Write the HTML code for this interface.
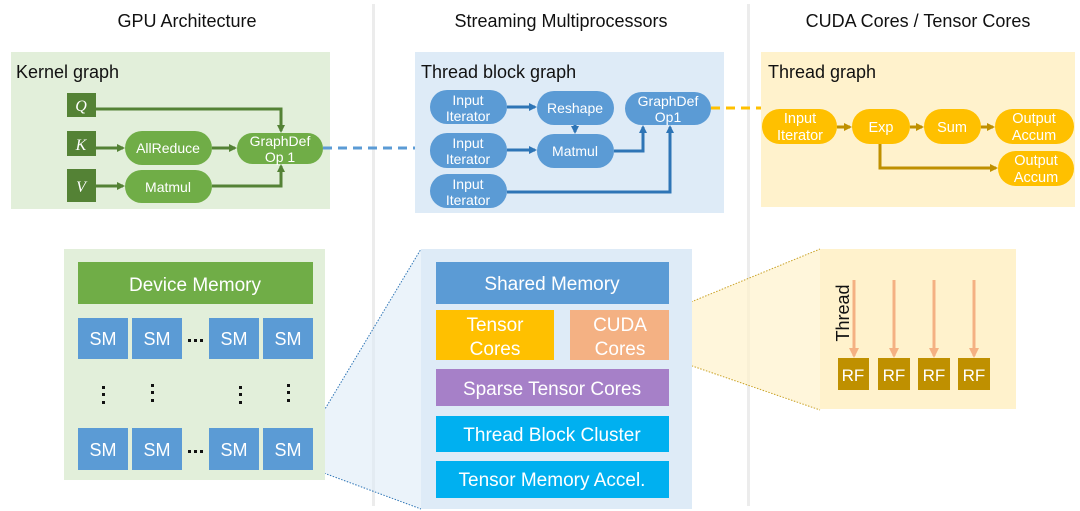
<!DOCTYPE html>
<html><head><meta charset="utf-8"><style>
body{margin:0;background:#fff}
svg{display:block;font-family:"Liberation Sans",Arial,sans-serif}
</style></head><body>
<svg width="1080" height="511" viewBox="0 0 1080 511" xmlns="http://www.w3.org/2000/svg">
<defs>
<marker id="ag" markerWidth="8" markerHeight="8" refX="6" refY="4" orient="auto" markerUnits="userSpaceOnUse"><path d="M0,0 L8,4 L0,8z" fill="#548235"/></marker>
<marker id="ab" markerWidth="8" markerHeight="8" refX="6" refY="4" orient="auto" markerUnits="userSpaceOnUse"><path d="M0,0 L8,4 L0,8z" fill="#2e75b6"/></marker>
<marker id="ay" markerWidth="8" markerHeight="8" refX="6" refY="4" orient="auto" markerUnits="userSpaceOnUse"><path d="M0,0 L8,4 L0,8z" fill="#bf9000"/></marker>
<marker id="ao" markerWidth="10" markerHeight="10" refX="8" refY="5" orient="auto" markerUnits="userSpaceOnUse"><path d="M0,0 L10,5 L0,10z" fill="#f4b183"/></marker>
</defs>
<rect x="372" y="4" width="3" height="502" fill="#ececec"/>
<rect x="747" y="4" width="3" height="502" fill="#ececec"/>
<g font-size="18" fill="#111" text-anchor="middle">
<text x="187" y="27">GPU Architecture</text>
<text x="561" y="27">Streaming Multiprocessors</text>
<text x="918" y="27">CUDA Cores / Tensor Cores</text>
</g>
<rect x="11" y="52" width="319" height="157" fill="#e2efda"/>
<text x="16" y="78" font-size="18" fill="#111">Kernel graph</text>
<g fill="#548235"><rect x="67" y="93" width="29" height="24"/><rect x="67" y="131" width="29" height="25"/><rect x="67" y="169" width="29" height="33"/></g>
<g fill="#fff" font-family="Liberation Serif,serif" font-style="italic" font-size="16" text-anchor="middle"><text x="81" y="111">Q</text><text x="81" y="150">K</text><text x="81" y="192">V</text></g>
<g fill="#70ad47"><rect x="125" y="131" width="87" height="34" rx="17"/><rect x="125" y="170" width="87" height="33" rx="16.5"/><rect x="237" y="133" width="86" height="31" rx="15.5"/></g>
<g fill="#fff" font-size="14" text-anchor="middle"><text x="168" y="153">AllReduce</text><text x="168" y="192">Matmul</text><text x="280" y="146">GraphDef</text><text x="280" y="162">Op 1</text></g>
<g stroke="#548235" stroke-width="3" fill="none">
<path d="M96,109 H281 V131" marker-end="url(#ag)"/>
<path d="M96,148 H123" marker-end="url(#ag)"/>
<path d="M212,148 H235" marker-end="url(#ag)"/>
<path d="M96,186 H123" marker-end="url(#ag)"/>
<path d="M212,186 H281 V166" marker-end="url(#ag)"/>
</g>
<path d="M323,148 H415" stroke="#5b9bd5" stroke-width="3" stroke-dasharray="9,6"/>
<rect x="415" y="52" width="309" height="161" fill="#deebf7"/>
<text x="421" y="78" font-size="18" fill="#111">Thread block graph</text>
<g fill="#5b9bd5">
<rect x="430" y="90" width="77" height="34" rx="17"/><rect x="430" y="133" width="77" height="35" rx="17"/><rect x="430" y="174" width="77" height="34" rx="17"/>
<rect x="537" y="91" width="77" height="34" rx="17"/><rect x="537" y="134" width="77" height="34" rx="17"/><rect x="625" y="92" width="86" height="33" rx="16.5"/>
</g>
<g fill="#fff" font-size="14" text-anchor="middle">
<text x="468" y="105">Input</text><text x="468" y="121">Iterator</text>
<text x="468" y="148">Input</text><text x="468" y="164">Iterator</text>
<text x="468" y="189">Input</text><text x="468" y="205">Iterator</text>
<text x="575" y="113">Reshape</text><text x="575" y="156">Matmul</text>
<text x="668" y="106">GraphDef</text><text x="668" y="122">Op1</text>
</g>
<g stroke="#2e75b6" stroke-width="3" fill="none">
<path d="M507,107 H535" marker-end="url(#ab)"/>
<path d="M575,125 V132" marker-end="url(#ab)"/>
<path d="M507,150 H535" marker-end="url(#ab)"/>
<path d="M614,151 H643 V127" marker-end="url(#ab)"/>
<path d="M507,192 H670 V127" marker-end="url(#ab)"/>
</g>
<path d="M711,108 H761" stroke="#ffc000" stroke-width="3" stroke-dasharray="9,6"/>
<rect x="761" y="52" width="314" height="155" fill="#fff2cc"/>
<text x="768" y="78" font-size="18" fill="#111">Thread graph</text>
<g fill="#ffc000">
<rect x="762" y="109" width="75" height="35" rx="17.5"/><rect x="852" y="109" width="58" height="35" rx="17.5"/><rect x="924" y="109" width="57" height="35" rx="17.5"/>
<rect x="995" y="109" width="79" height="35" rx="17.5"/><rect x="998" y="151" width="76" height="35" rx="17.5"/>
</g>
<g fill="#fff" font-size="14.5" text-anchor="middle">
<text x="800" y="123">Input</text><text x="800" y="140">Iterator</text>
<text x="881" y="132">Exp</text><text x="952" y="132">Sum</text>
<text x="1034" y="123">Output</text><text x="1034" y="140">Accum</text>
<text x="1036" y="165">Output</text><text x="1036" y="182">Accum</text>
</g>
<g stroke="#bf9000" stroke-width="3" fill="none">
<path d="M837,127 H850" marker-end="url(#ay)"/>
<path d="M910,127 H922" marker-end="url(#ay)"/>
<path d="M981,127 H993" marker-end="url(#ay)"/>
<path d="M880,144 V168 H996" marker-end="url(#ay)"/>
</g>
<polygon points="313,429 421,249 421,509 313,469" fill="#deebf7" opacity="0.6"/>
<path d="M313,429 L421,249 M313,469 L421,509" stroke="#2e75b6" stroke-width="1" stroke-dasharray="1.5,1.5"/>
<polygon points="669,311 820,249 820,410 669,358" fill="#fff2cc" opacity="0.7"/>
<path d="M669,311 L820,249 M669,358 L820,410" stroke="#c9a227" stroke-width="1" stroke-dasharray="1.5,1.5"/>
<rect x="64" y="249" width="261" height="231" fill="#e2efda"/>
<rect x="78" y="262" width="235" height="42" fill="#70ad47"/>
<text x="195" y="291" fill="#fff" font-size="19" text-anchor="middle">Device Memory</text>
<g fill="#5b9bd5">
<rect x="78" y="318" width="50" height="41"/><rect x="132" y="318" width="50" height="41"/><rect x="209" y="318" width="50" height="41"/><rect x="263" y="318" width="50" height="41"/>
<rect x="78" y="428" width="50" height="42"/><rect x="132" y="428" width="50" height="42"/><rect x="209" y="428" width="50" height="42"/><rect x="263" y="428" width="50" height="42"/>
</g>
<g fill="#fff" font-size="18" text-anchor="middle">
<text x="103" y="345">SM</text><text x="157" y="345">SM</text><text x="234" y="345">SM</text><text x="288" y="345">SM</text>
<text x="103" y="456">SM</text><text x="157" y="456">SM</text><text x="234" y="456">SM</text><text x="288" y="456">SM</text>
</g>
<g fill="#111">
<rect x="188" y="339" width="3" height="3"/><rect x="194" y="339" width="3" height="3"/><rect x="200" y="339" width="3" height="3"/>
<rect x="188" y="450" width="3" height="3"/><rect x="194" y="450" width="3" height="3"/><rect x="200" y="450" width="3" height="3"/>
<g id="col"><rect x="102" y="386" width="3" height="3"/><rect x="102" y="393" width="3" height="3"/><rect x="102" y="401" width="3" height="3"/></g>
<use href="#col" x="49" y="-2"/><use href="#col" x="137"/><use href="#col" x="185" y="-2"/>
</g>
<rect x="421" y="249" width="271" height="260" fill="#deebf7"/>
<rect x="436" y="262" width="233" height="42" fill="#5b9bd5"/>
<rect x="436" y="310" width="118" height="50" fill="#ffc000"/>
<rect x="570" y="310" width="99" height="50" fill="#f4b183"/>
<rect x="436" y="369" width="233" height="37" fill="#a680c8"/>
<rect x="436" y="416" width="233" height="36" fill="#00b0f0"/>
<rect x="436" y="461" width="233" height="37" fill="#00b0f0"/>
<g fill="#fff" font-size="19" text-anchor="middle">
<text x="552" y="290">Shared Memory</text>
<text x="495" y="331">Tensor</text><text x="495" y="355">Cores</text>
<text x="620" y="331">CUDA</text><text x="620" y="355">Cores</text>
<text x="552" y="395">Sparse Tensor Cores</text>
<text x="552" y="441">Thread Block Cluster</text>
<text x="552" y="486">Tensor Memory Accel.</text>
</g>
<rect x="820" y="249" width="196" height="160" fill="#fff2cc"/>
<g stroke="#f4b183" stroke-width="3" marker-end="url(#ao)">
<path d="M854,280 V356"/><path d="M894,280 V356"/><path d="M934,280 V356"/><path d="M974,280 V356"/>
</g>
<text transform="translate(849,313) rotate(-90)" font-size="18" fill="#111" text-anchor="middle">Thread</text>
<g fill="#bf9000"><rect x="838" y="358" width="31" height="32"/><rect x="878" y="358" width="32" height="32"/><rect x="918" y="358" width="32" height="32"/><rect x="958" y="358" width="32" height="32"/></g>
<g fill="#fff" font-size="17" text-anchor="middle"><text x="853" y="381">RF</text><text x="894" y="381">RF</text><text x="934" y="381">RF</text><text x="974" y="381">RF</text></g>
</svg>
</body></html>
